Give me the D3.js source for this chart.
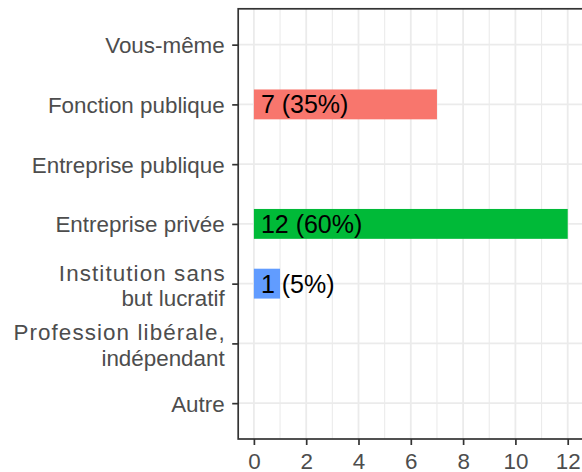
<!DOCTYPE html>
<html>
<head>
<meta charset="utf-8">
<script src="https://cdn.jsdelivr.net/npm/d3@7"></script>
<style>
  body { margin: 0; background: #fff; }
  text { font-family: "Liberation Sans", Arial, Helvetica, sans-serif; }
</style>
</head>
<body>
<script>

// categories top to bottom, "\n" marks a line break in the axis label
var categories = ["Vous-même", "Fonction publique", "Entreprise publique", "Entreprise privée",
                  "Institution sans\nbut lucratif", "Profession libérale,\nindépendant", "Autre"];
var counts = [0, 7, 0, 12, 1, 0, 0];
var percents = [0, 35, 0, 60, 5, 0, 0];
var barColors = ["#F8766D", "#F8766D", "#00BA38", "#00BA38", "#619CFF", "#619CFF", "#619CFF"];
var xTicks = [0, 2, 4, 6, 8, 10, 12];
var xMinor = [1, 3, 5, 7, 9, 11];

var width = 582;
var height = 472;

var svg = d3.select("body")
      .append("svg")
      .attr("width", width)
      .attr("height", height);

var panel = {left: 238.2, top: 8.8, right: 583.4, bottom: 439};

var x = d3.scaleLinear()
    .domain([-0.6, 12.6])
    .range([panel.left, panel.right]);

var y = d3.scalePoint()
    .domain(categories)
    .range([panel.top, panel.bottom])
    .padding(0.6);

var data = categories.map(function(c, i) {
  return {cat: c, n: counts[i], pct: percents[i], color: barColors[i]};
});

// grid
var grid = svg.append("g");
grid.selectAll("line.minor")
  .data(xMinor)
  .enter().append("line")
    .attr("x1", function(d) { return x(d); })
    .attr("x2", function(d) { return x(d); })
    .attr("y1", panel.top)
    .attr("y2", panel.bottom)
    .attr("stroke", "#EBEBEB")
    .attr("stroke-width", 1.1);

grid.selectAll("line.major")
  .data(xTicks)
  .enter().append("line")
    .attr("x1", function(d) { return x(d); })
    .attr("x2", function(d) { return x(d); })
    .attr("y1", panel.top)
    .attr("y2", panel.bottom)
    .attr("stroke", "#EBEBEB")
    .attr("stroke-width", 1.8);

grid.selectAll("line.hmajor")
  .data(categories)
  .enter().append("line")
    .attr("x1", panel.left)
    .attr("x2", panel.right)
    .attr("y1", function(d) { return y(d); })
    .attr("y2", function(d) { return y(d); })
    .attr("stroke", "#EBEBEB")
    .attr("stroke-width", 1.8);

// bars
var barH = y.step() * 0.5;
var withData = data.filter(function(d) { return d.n > 0; });

svg.append("g").selectAll("rect")
  .data(withData)
  .enter().append("rect")
    .attr("x", x(0))
    .attr("y", function(d) { return y(d.cat) - barH / 2; })
    .attr("width", function(d) { return x(d.n) - x(0); })
    .attr("height", barH)
    .attr("fill", function(d) { return d.color; });

svg.append("g").selectAll("text")
  .data(withData)
  .enter().append("text")
    .attr("x", x(0))
    .attr("dx", "0.28em")
    .attr("y", function(d) { return y(d.cat); })
    .attr("dy", "0.36em")
    .attr("font-size", "25px")
    .attr("fill", "#000")
    .text(function(d) { return d.n + " (" + d.pct + "%)"; });

// panel border
svg.append("rect")
    .attr("x", panel.left)
    .attr("y", panel.top)
    .attr("width", panel.right - panel.left)
    .attr("height", panel.bottom - panel.top)
    .attr("fill", "none")
    .attr("stroke", "#333333")
    .attr("stroke-width", 1.7);

// x axis
var xAxis = svg.append("g")
    .attr("transform", "translate(0," + panel.bottom + ")")
    .call(d3.axisBottom(x).tickValues(xTicks).tickSize(6).tickPadding(4).tickFormat(d3.format("d")));
xAxis.select(".domain").remove();
xAxis.selectAll(".tick line").attr("stroke", "#333333").attr("stroke-width", 1.7);
xAxis.selectAll(".tick text")
    .attr("font-size", "22.4px")
    .attr("fill", "#4D4D4D")
    .attr("font-family", "Liberation Sans, Arial, sans-serif")
    .attr("y", 29.5)
    .attr("dy", 0);

// y axis
var yAxis = svg.append("g")
    .attr("transform", "translate(" + panel.left + ",0)")
    .call(d3.axisLeft(y).tickSize(6).tickFormat(""));
yAxis.select(".domain").remove();
yAxis.selectAll(".tick line").attr("stroke", "#333333").attr("stroke-width", 1.7);

var labelX = panel.left - 13.5;

var yLabels = svg.append("g").selectAll("text")
  .data(categories)
  .enter().append("text")
    .attr("text-anchor", "end")
    .attr("font-size", "22.4px")
    .attr("fill", "#4D4D4D");

yLabels.each(function(d) {
  var lines = d.split("\n");
  var t = d3.select(this);
  lines.forEach(function(line, i) {
    var off = lines.length == 1 ? 8.5 : (i == 0 ? -3 : 22.5);
    // first line of a wrapped label is set a little looser in the reference
    var ls = (lines.length > 1 && i == 0) ? 1.1 : 0;
    t.append("tspan")
      .attr("x", labelX + ls)
      .attr("y", y(d) + off)
      .attr("letter-spacing", ls)
      .text(line);
  });
});

</script>
</body>
</html>
